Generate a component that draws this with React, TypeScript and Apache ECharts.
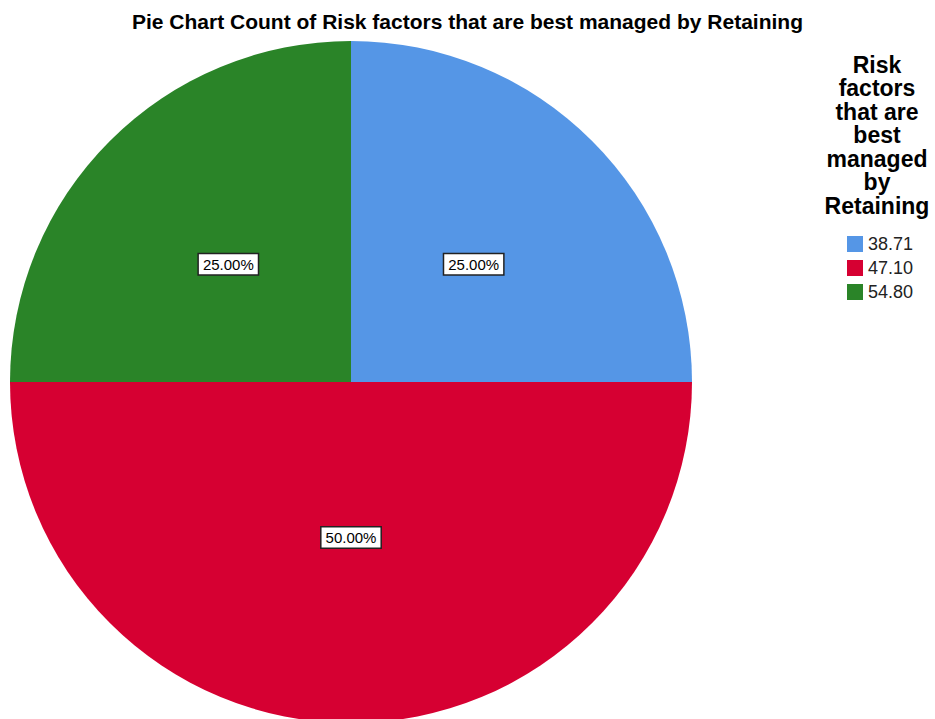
import React, { useEffect, useRef } from "react";
import * as echarts from "echarts";

const categories = ["38.71", "47.10", "54.80"];
const counts = [1, 2, 1];
const colors = ["#5596E6", "#D60032", "#2A8428"];
const titleText = "Pie Chart Count of Risk factors that are best managed by Retaining";
const legendTitleLines = ["Risk", "factors", "that are", "best", "managed", "by", "Retaining"];

export default function App() {
  const ref = useRef<HTMLDivElement>(null);
  useEffect(() => {
    document.body.style.margin = "0";
    const chart = echarts.init(ref.current!, null, { renderer: "svg" });
    const total = counts.reduce((a, b) => a + b, 0);
    const labelShift = [5, -18, 5];
    chart.setOption({
      animation: false,
      backgroundColor: "#ffffff",
      title: {
        text: titleText,
        left: "center",
        top: 6,
        textStyle: { fontFamily: "Liberation Sans, Arial", fontSize: 21, fontWeight: "bold", color: "#000" },
      },
      legend: {
        orient: "vertical",
        left: 842,
        top: 230,
        itemWidth: 16,
        itemHeight: 16,
        itemGap: 6,
        icon: "rect",
        textStyle: { fontFamily: "Liberation Sans, Arial", fontSize: 18, color: "#222" },
        data: categories,
      },
      graphic: [
        {
          type: "text",
          x: 877,
          y: 53,
          style: {
            text: legendTitleLines.join("\n"),
            fontFamily: "Liberation Sans, Arial",
            fontSize: 23,
            fontWeight: "bold",
            lineHeight: 23.5,
            fill: "#000",
            align: "center",
            verticalAlign: "top",
          },
        },
      ],
      series: [
        {
          type: "pie",
          center: [351, 382],
          radius: 341,
          startAngle: 90,
          clockwise: true,
          silent: true,
          data: categories.map((c, i) => ({ name: c, value: counts[i], itemStyle: { color: colors[i] } })),
          itemStyle: { borderWidth: 0 },
          label: {
            show: true,
            position: "inner",
            formatter: (p: any) => ((p.value / total) * 100).toFixed(2) + "%",
            fontFamily: "Liberation Sans, Arial",
            fontSize: 15,
            color: "#000",
            backgroundColor: "#ffffff",
            borderColor: "#222",
            borderWidth: 1.5,
            padding: [3, 4, 2, 4],
          },
          labelLayout: (p: any) => ({ dy: labelShift[p.dataIndex] }),
          labelLine: { show: false },
        },
      ],
    });
    return () => chart.dispose();
  }, []);
  return <div ref={ref} style={{ width: 935, height: 719 }} />;
}
